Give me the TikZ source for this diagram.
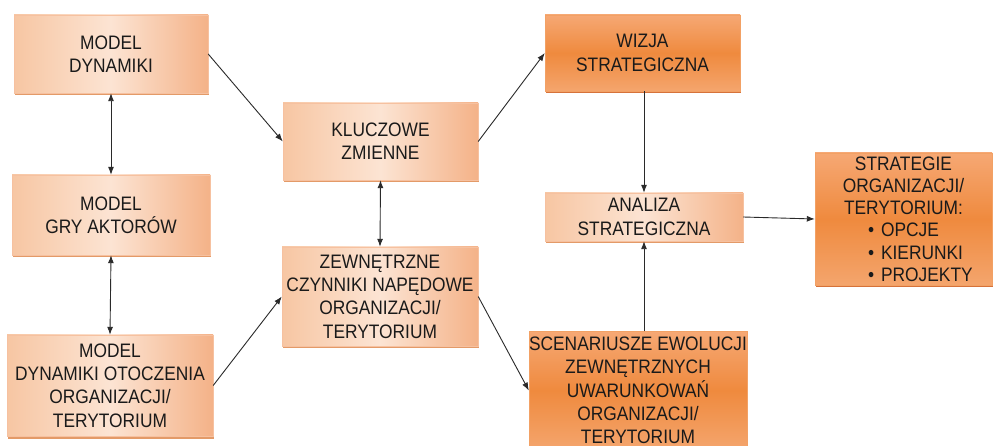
\documentclass[tikz,border=0pt]{standalone}
\usepackage{fontspec}
\setmainfont{Liberation Sans}[FakeStretch=0.89]
\usetikzlibrary{arrows.meta,shadows}

\definecolor{peachEdge}{HTML}{F7C6A3}
\definecolor{peachMid}{HTML}{FCE4D3}
\definecolor{peachRight}{HTML}{F4B288}
\definecolor{peachShadow}{HTML}{E39A68}
\definecolor{orangeTop}{HTML}{F6A874}
\definecolor{orangeMid}{HTML}{EF8A3E}
\definecolor{orangeBot}{HTML}{F4A56D}
\definecolor{orangeShadow}{HTML}{D6723A}
\definecolor{inkcol}{HTML}{1A1A1A}
\definecolor{linecol}{HTML}{2A2A2A}

\tikzset{
  box/.style={rectangle, inner sep=0pt, align=center, text=inkcol,
    font=\fontsize{19.5}{23.3}\selectfont},
  lightbox/.style={box, left color=peachEdge, right color=peachRight,
    middle color=peachMid, draw=peachRight!80!white, line width=0.4pt,
    drop shadow={shadow xshift=1pt, shadow yshift=-2.5pt, fill=peachShadow, opacity=1}},
  darkbox/.style={box, top color=orangeTop, bottom color=orangeBot,
    middle color=orangeMid, draw=orangeMid!80!white, line width=0.4pt,
    drop shadow={shadow xshift=1pt, shadow yshift=-2.5pt, fill=orangeShadow, opacity=1}},
  link/.style={draw=linecol, line width=0.9pt, -{Latex[length=8pt,width=6pt]}},
  biglink/.style={draw=linecol, line width=0.9pt, {Latex[length=8pt,width=6pt]}-{Latex[length=8pt,width=6pt]}}
}

\begin{document}
\begin{tikzpicture}[x=1pt,y=-1pt]
\useasboundingbox[fill=white] (0,0) rectangle (994,446);

% left column: models
\node[lightbox, minimum width=194pt, minimum height=78pt] (dyn) at (111,54)
  {MODEL\\DYNAMIKI};
\node[lightbox, minimum width=198pt, minimum height=80pt] (gry) at (111,215)
  {MODEL\\GRY AKTORÓW};
\node[lightbox, minimum width=206pt, minimum height=101pt] (oto) at (110,385.5)
  {MODEL\\DYNAMIKI OTOCZENIA\\ORGANIZACJI/\\TERYTORIUM};

% middle column
\node[lightbox, minimum width=195pt, minimum height=77pt] (klu) at (380.5,141.5)
  {KLUCZOWE\\ZMIENNE};
\node[lightbox, minimum width=196pt, minimum height=99pt] (zew) at (380,296.5)
  {ZEWNĘTRZNE\\CZYNNIKI NAPĘDOWE\\ORGANIZACJI/\\TERYTORIUM};

% strategic column
\node[darkbox, minimum width=195pt, minimum height=76pt] (wiz) at (642.5,53)
  {WIZJA\\STRATEGICZNA};
\node[lightbox, minimum width=198pt, minimum height=48pt] (ana) at (644,217)
  {ANALIZA\\STRATEGICZNA};
\node[darkbox, minimum width=210pt, minimum height=118pt] (sce) at (638,390.5)
  {SCENARIUSZE EWOLUCJI\\ZEWNĘTRZNYCH\\UWARUNKOWAŃ\\ORGANIZACJI/\\TERYTORIUM};

% outcome
\node[darkbox, minimum width=177pt, minimum height=132pt,
      font=\fontsize{19.5}{22.2}\selectfont] (str) at (903.5,219)
  {STRATEGIE\\ORGANIZACJI/\\TERYTORIUM:\\
   \hspace*{34pt}\makebox[105pt][l]{\textbullet\hspace{7pt}OPCJE}\\
   \hspace*{34pt}\makebox[105pt][l]{\textbullet\hspace{7pt}KIERUNKI}\\
   \hspace*{34pt}\makebox[105pt][l]{\textbullet\hspace{7pt}PROJEKTY}};

% connectors
\draw[biglink] (dyn.south) -- (gry.north);
\draw[biglink] (gry.south) -- (oto.north);
\draw[biglink] (klu.south) -- (zew.north);
\draw[link] (dyn.east) -- (klu.west);
\draw[link] (oto.east) -- (zew.west);
\draw[link] (klu.east) -- (wiz.west);
\draw[link] (zew.east) -- (sce.west);
\draw[link] (wiz.south -| ana.north) -- (ana.north);
\draw[link] (sce.north -| ana.south) -- (ana.south);
\draw[link] (ana.east) -- (str.west);
\end{tikzpicture}
\end{document}
